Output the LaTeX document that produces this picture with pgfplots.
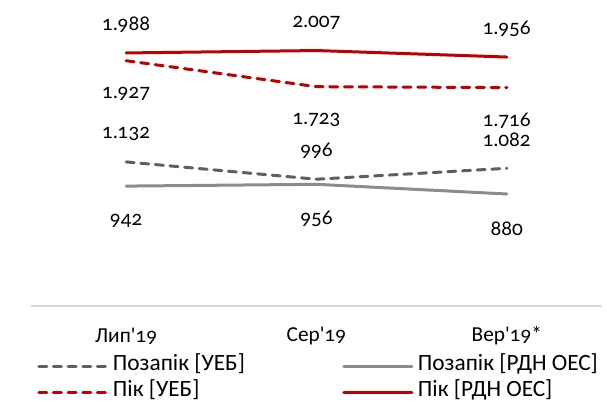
\documentclass[border=0pt]{standalone}
\usepackage{fontspec}
\setmainfont{Carlito}[Ligatures=TeXOff]
\newfontfamily\cf{Carlito}[Ligatures=TeXOff]
\newfontfamily\lf{Lato}[RawFeature=+onum]
\newcommand{\nf}{\lf\fontsize{15pt}{18pt}\selectfont}
\usepackage{pgfplots}
\pgfplotsset{compat=1.18}
\definecolor{cred}{HTML}{C00000}
\definecolor{cdg}{HTML}{5F5F5F}
\definecolor{clg}{HTML}{8C8C8C}
\definecolor{cax}{HTML}{D9D9D9}
\begin{document}
\begin{tikzpicture}[font=\cf\fontsize{16pt}{19pt}\selectfont]
\useasboundingbox (-23.25pt,-71.25pt) rectangle (432pt,229.5pt);
\begin{axis}[
  at={(0,0)}, anchor=south west,
  width=428.25pt, height=229.5pt, scale only axis,
  xmin=-0.5, xmax=2.5, ymin=0, ymax=2404,
  axis x line*=bottom, axis y line=none,
  x axis line style={draw=cax, line width=0.8pt, -},
  xtick={0,1,2}, xticklabels={Лип'{\nf 19},Сер'{\nf 19},Вер'{\nf 19}*},
  xtick style={draw=none}, major tick length=0pt,
  xticklabel style={anchor=center, yshift=-22.5pt, font=\cf\fontsize{16pt}{19pt}\selectfont},
  ytick=\empty,
  ylabel={грн/МВт·год},
  ylabel style={at={(axis description cs:-0.0193,0.533)}, anchor=center, rotate=0, font=\cf\fontsize{16pt}{19pt}\selectfont},
  clip=false,
  nodes near coords, point meta=explicit symbolic,
  every node near coord/.append style={anchor=center, text=black, inner sep=0.5pt, font=\nf},
  legend columns=2,
  legend style={at={(0,0)}, anchor=north west, xshift=4.5pt, yshift=-37.5pt,
    draw=none, fill=none, inner sep=0pt, column sep=0pt, row sep=4.5pt,
    font=\cf\fontsize{17.5pt}{20pt}\selectfont,
    nodes={inner sep=1pt, anchor=west, text height=10pt, text depth=3pt}},
  legend image code/.code={\draw[#1] (0pt,0pt) -- (51pt,0pt); \path (53.5pt,0pt);},
]
\addplot[cdg, line width=2.25pt, line cap=round, dash pattern=on 6pt off 5pt,
  nodes near coords style={yshift=21pt}]
  coordinates {(0,1132)[1.132] (1,996)[996] (2,1082)[1.082]};
\addlegendentry{\makebox[171pt][l]{Позапік [УЕБ]}}
\addplot[clg, line width=2.25pt, line cap=round,
  nodes near coords style={yshift=-26pt}]
  coordinates {(0,942)[942] (1,956)[956] (2,880)[880]};
\addlegendentry{Позапік [РДН ОЕС]}
\addplot[cred, line width=2.25pt, line cap=round, dash pattern=on 6pt off 5pt,
  nodes near coords style={yshift=-25pt}]
  coordinates {(0,1927)[1.927] (1,1723)[1.723] (2,1716)[1.716]};
\addlegendentry{\makebox[171pt][l]{Пік [УЕБ]}}
\addplot[cred, line width=2.25pt, line cap=round,
  nodes near coords style={yshift=21pt}]
  coordinates {(0,1988)[1.988] (1,2007)[2.007] (2,1956)[1.956]};
\addlegendentry{Пік [РДН ОЕС]}
\end{axis}
\end{tikzpicture}
\end{document}
